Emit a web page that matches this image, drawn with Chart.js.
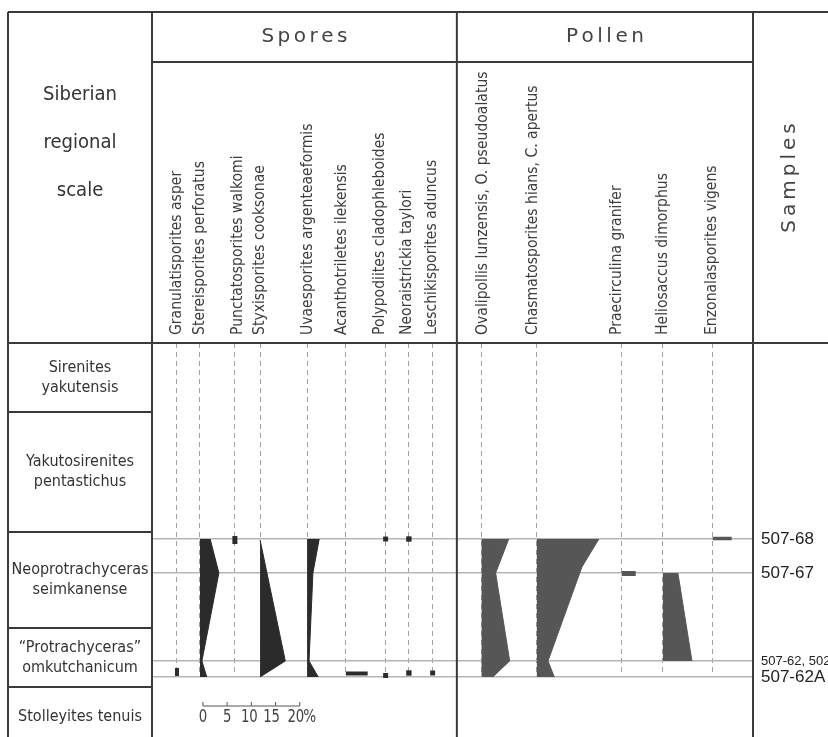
<!DOCTYPE html>
<html>
<head>
<meta charset="utf-8">
<script src="https://cdn.jsdelivr.net/npm/chart.js@4.4.1/dist/chart.umd.min.js"></script>
<style>
  html, body { margin: 0; padding: 0; background: #fff; }
  #wrap { width: 828px; height: 737px; }
</style>
</head>
<body>
<div id="wrap"><canvas id="chart" width="828" height="737"></canvas></div>
<script>
// levels are measured down from the top of the Sirenites zone
const sampleNames = ["507-68", "507-67", "507-62, 502-4", "507-62A"];
const sampleLevels = [196, 230, 318, 334];

const zoneNames = [
  ["Sirenites", "yakutensis"],
  ["Yakutosirenites", "pentastichus"],
  ["Neoprotrachyceras", "seimkanense"],
  ["\u201CProtrachyceras\u201D", "omkutchanicum"],
  ["Stolleyites tenuis"],
];
const zoneTops = [0, 69, 189, 285, 344];
const zoneBottom = 404;

const sporeNames = [
  "Granulatisporites asper", "Stereisporites perforatus", "Punctatosporites walkomi",
  "Styxisporites cooksonae", "Uvaesporites argenteaeformis", "Acanthotriletes ilekensis",
  "Polypodiites cladophleboides", "Neoraistrickia taylori", "Leschikisporites aduncus",
];
const pollenNames = [
  "Ovalipollis lunzensis, O. pseudoalatus", "Chasmatosporites hians, C. apertus",
  "Praecirculina granifer", "Heliosaccus dimorphus", "Enzonalasporites vigens",
];

// abundance curves, [level, %]
const stereisporites = [[196, 2.1], [230, 3.9], [318, 0.4], [334, 1.4]];
const styxisporites = [[197, 0], [318, 5.2], [334, 0]];
const uvaesporites = [[196, 2.5], [230, 1.2], [318, 0.4], [334, 2.3]];
const ovalipollis = [[196, 5.6], [230, 2.9], [318, 5.8], [334, 2.3]];
const chasmatosporites = [[196, 12.8], [224, 9.3], [318, 2.3], [334, 3.6]];
const heliosaccus = [[230, 3.1], [318, 6.0]];

// single-sample counts, [level, %]
const acanthotriletes = [[330.5, 4.5]];
const praecirculina = [[230.5, 2.9]];
const enzonalasporites = [[195.5, 3.9]];

// rare finds, levels only
const granulatisporitesFinds = [329];
const punctatosporitesFinds = [197];
const polypodiitesFinds = [196, 332.5];
const neoraistrickiaFinds = [196, 330];
const leschikisporitesFinds = [330];

const scaleTicks = [0, 5, 10, 15, 20];

// layout (x units are % of abundance)
const X_MAX = 124;
const sporeBase = [5.15, 9.9, 17.1, 22.3, 32.0, 40.0, 48.2, 53.0, 57.9];
const pollenBase = [68.0, 79.4, 96.9, 105.4, 115.7];
const sporeLabelShift = [0, 0, 3, 0, 1, -4, -6, -2, -1];
const pollenLabelShift = [1, -4, -5, 0, -1];
const dividerX = 62.9;
const scaleBarStart = 10.5;

const SPORE = "#2b2b2b";
const POLLEN = "#565656";
const INK = "#3a3a3a";

function profile(rows, base, color) {
  return {
    data: rows.map(r => ({ x: base + r[1], y: r[0] })),
    borderColor: color, borderWidth: 1, backgroundColor: color,
    fill: { value: base }, pointRadius: 0, tension: 0, clip: false,
  };
}
function bars(rows, base, color, w) {
  return rows.map(r => ({
    data: [{ x: base, y: r[0] }, { x: base + r[1], y: r[0] }],
    borderColor: color, borderWidth: w, borderCapStyle: "butt",
    pointRadius: 0, fill: false, clip: false,
  }));
}
function dots(levels, base, color, r) {
  return {
    data: levels.map(l => ({ x: base, y: l })), showLine: false,
    pointStyle: "rect", pointRadius: r, pointBackgroundColor: color,
    pointBorderWidth: 0, fill: false, clip: false,
  };
}
function ticksMark(levels, base, color, len, w) {
  return {
    data: levels.map(l => ({ x: base, y: l })), showLine: false,
    pointStyle: "line", pointRotation: 90, pointRadius: len / 2,
    pointBorderColor: color, pointBorderWidth: w, fill: false, clip: false,
  };
}

const datasets = [
  ticksMark(granulatisporitesFinds, sporeBase[0], SPORE, 8, 4),
  profile(stereisporites, sporeBase[1], SPORE),
  ticksMark(punctatosporitesFinds, sporeBase[2], SPORE, 8, 5),
  profile(styxisporites, sporeBase[3], SPORE),
  profile(uvaesporites, sporeBase[4], SPORE),
  ...bars(acanthotriletes, sporeBase[5], SPORE, 4),
  dots(polypodiitesFinds, sporeBase[6], SPORE, 3.5),
  dots(neoraistrickiaFinds, sporeBase[7], SPORE, 3.8),
  dots(leschikisporitesFinds, sporeBase[8], SPORE, 3.5),
  profile(ovalipollis, pollenBase[0], POLLEN),
  profile(chasmatosporites, pollenBase[1], POLLEN),
  ...bars(praecirculina, pollenBase[2], POLLEN, 5),
  profile(heliosaccus, pollenBase[3], POLLEN),
  ...bars(enzonalasporites, pollenBase[4], POLLEN, 3.5),
];

function squeezed(ctx, txt, x, y, sx) {
  ctx.save();
  ctx.translate(x, y);
  ctx.scale(sx, 1);
  ctx.fillText(txt, 0, 0);
  ctx.restore();
}
function spaced(ctx, txt, cx, cy, gap) {
  const widths = [...txt].map(c => ctx.measureText(c).width);
  const total = widths.reduce((s, w) => s + w, 0) + gap * (txt.length - 1);
  let x = cx - total / 2;
  ctx.textAlign = "left";
  [...txt].forEach((c, i) => { ctx.fillText(c, x, cy); x += widths[i] + gap; });
}

const framePlugin = {
  id: "frame",
  afterDraw(chart) {
    const { ctx, chartArea: a, scales: { x, y } } = chart;
    const W = chart.width, H = chart.height;
    const left = 8, top = 12, split = 62;
    const divX = x.getPixelForValue(dividerX);

    ctx.save();
    ctx.strokeStyle = INK;
    ctx.lineWidth = 2;
    ctx.beginPath();
    ctx.moveTo(left, top); ctx.lineTo(W, top);
    ctx.moveTo(left, a.top); ctx.lineTo(W, a.top);
    ctx.moveTo(a.left, split); ctx.lineTo(a.right, split);
    [left, a.left, divX, a.right].forEach(px => { ctx.moveTo(px, top); ctx.lineTo(px, H); });
    zoneTops.slice(1).forEach(z => {
      const py = y.getPixelForValue(z);
      ctx.moveTo(left, py); ctx.lineTo(a.left, py);
    });
    ctx.stroke();

    // headers
    ctx.fillStyle = "#444";
    ctx.textBaseline = "middle";
    ctx.font = "20px 'DejaVu Sans'";
    spaced(ctx, "Spores", (a.left + divX) / 2, 37, 3.5);
    spaced(ctx, "Pollen", (divX + a.right) / 2, 37, 3.5);
    ctx.save();
    ctx.translate(790, 178);
    ctx.rotate(-Math.PI / 2);
    spaced(ctx, "Samples", 0, 0, 4);
    ctx.restore();

    ctx.fillStyle = "#333";
    ctx.textAlign = "center";
    ctx.font = "19px 'DejaVu Sans'";
    ["Siberian", "regional", "scale"].forEach((t, i) => squeezed(ctx, t, 80, 95 + i * 48, 0.95));

    // zone names
    ctx.font = "16px 'DejaVu Sans'";
    zoneNames.forEach((lines, i) => {
      const z0 = y.getPixelForValue(zoneTops[i]);
      const z1 = y.getPixelForValue(i + 1 < zoneTops.length ? zoneTops[i + 1] : zoneBottom);
      const mid = (z0 + z1) / 2;
      lines.forEach((t, k) => squeezed(ctx, t, 80, mid + (k - (lines.length - 1) / 2) * 20, 0.9));
    });

    // taxon labels
    ctx.fillStyle = "#3c3c3c";
    ctx.textAlign = "left";
    ctx.font = "16px 'DejaVu Sans'";
    const drawCol = (name, base, shift) => {
      ctx.save();
      ctx.translate(x.getPixelForValue(base) + shift, a.top - 8);
      ctx.rotate(-Math.PI / 2);
      ctx.scale(0.875, 1);
      ctx.fillText(name, 0, 0);
      ctx.restore();
    };
    sporeNames.forEach((n, i) => drawCol(n, sporeBase[i], sporeLabelShift[i]));
    pollenNames.forEach((n, i) => drawCol(n, pollenBase[i], pollenLabelShift[i]));

    // percent scale bar
    const barY = 706;
    ctx.strokeStyle = "#555";
    ctx.lineWidth = 1;
    ctx.beginPath();
    const x0 = x.getPixelForValue(scaleBarStart + scaleTicks[0]);
    const x1 = x.getPixelForValue(scaleBarStart + scaleTicks[scaleTicks.length - 1]);
    ctx.moveTo(x0, barY); ctx.lineTo(x1, barY);
    scaleTicks.forEach(t => {
      const px = x.getPixelForValue(scaleBarStart + t);
      ctx.moveTo(px, barY); ctx.lineTo(px, barY - 4);
    });
    ctx.stroke();
    ctx.fillStyle = "#444";
    ctx.textAlign = "center";
    ctx.font = "17px 'DejaVu Sans'";
    scaleTicks.forEach(t => squeezed(ctx, String(t), x.getPixelForValue(scaleBarStart + t) - (t >= 15 ? 4 : t >= 10 ? 2 : 0), 718, 0.78));
    squeezed(ctx, "%", x1 + 10, 718, 0.8);
    ctx.restore();
  },
};

new Chart(document.getElementById("chart"), {
  type: "line",
  data: { datasets },
  options: {
    indexAxis: "y",
    responsive: false,
    animation: false,
    events: [],
    layout: { padding: { left: 152, top: 343, right: 0, bottom: 0 } },
    plugins: { legend: { display: false }, tooltip: { enabled: false } },
    scales: {
      x: {
        type: "linear", position: "bottom", min: 0, max: X_MAX,
        afterBuildTicks: s => { s.ticks = [...sporeBase, ...pollenBase].map(v => ({ value: v })); },
        afterFit: s => { s.height = 60; },
        ticks: { display: false },
        grid: { color: "#a0a0a0", lineWidth: 1, drawTicks: false },
        border: { display: false, dash: [5, 4] },
      },
      y: {
        type: "linear", position: "right", reverse: true, min: 0, max: 334,
        afterBuildTicks: s => { s.ticks = sampleLevels.map(v => ({ value: v })); },
        afterFit: s => { s.width = 75; },
        ticks: {
          autoSkip: false, padding: 8, color: "#222",
          callback: (v, i) => sampleNames[i],
          font: ctx => ({ family: "'Liberation Sans Narrow', 'Liberation Sans', sans-serif", size: ctx.index === 2 ? 13 : 17 }),
        },
        grid: { color: "#b5b5b5", lineWidth: 1.5, drawTicks: false },
        border: { display: false },
      },
    },
  },
  plugins: [framePlugin],
});
</script>
</body>
</html>
